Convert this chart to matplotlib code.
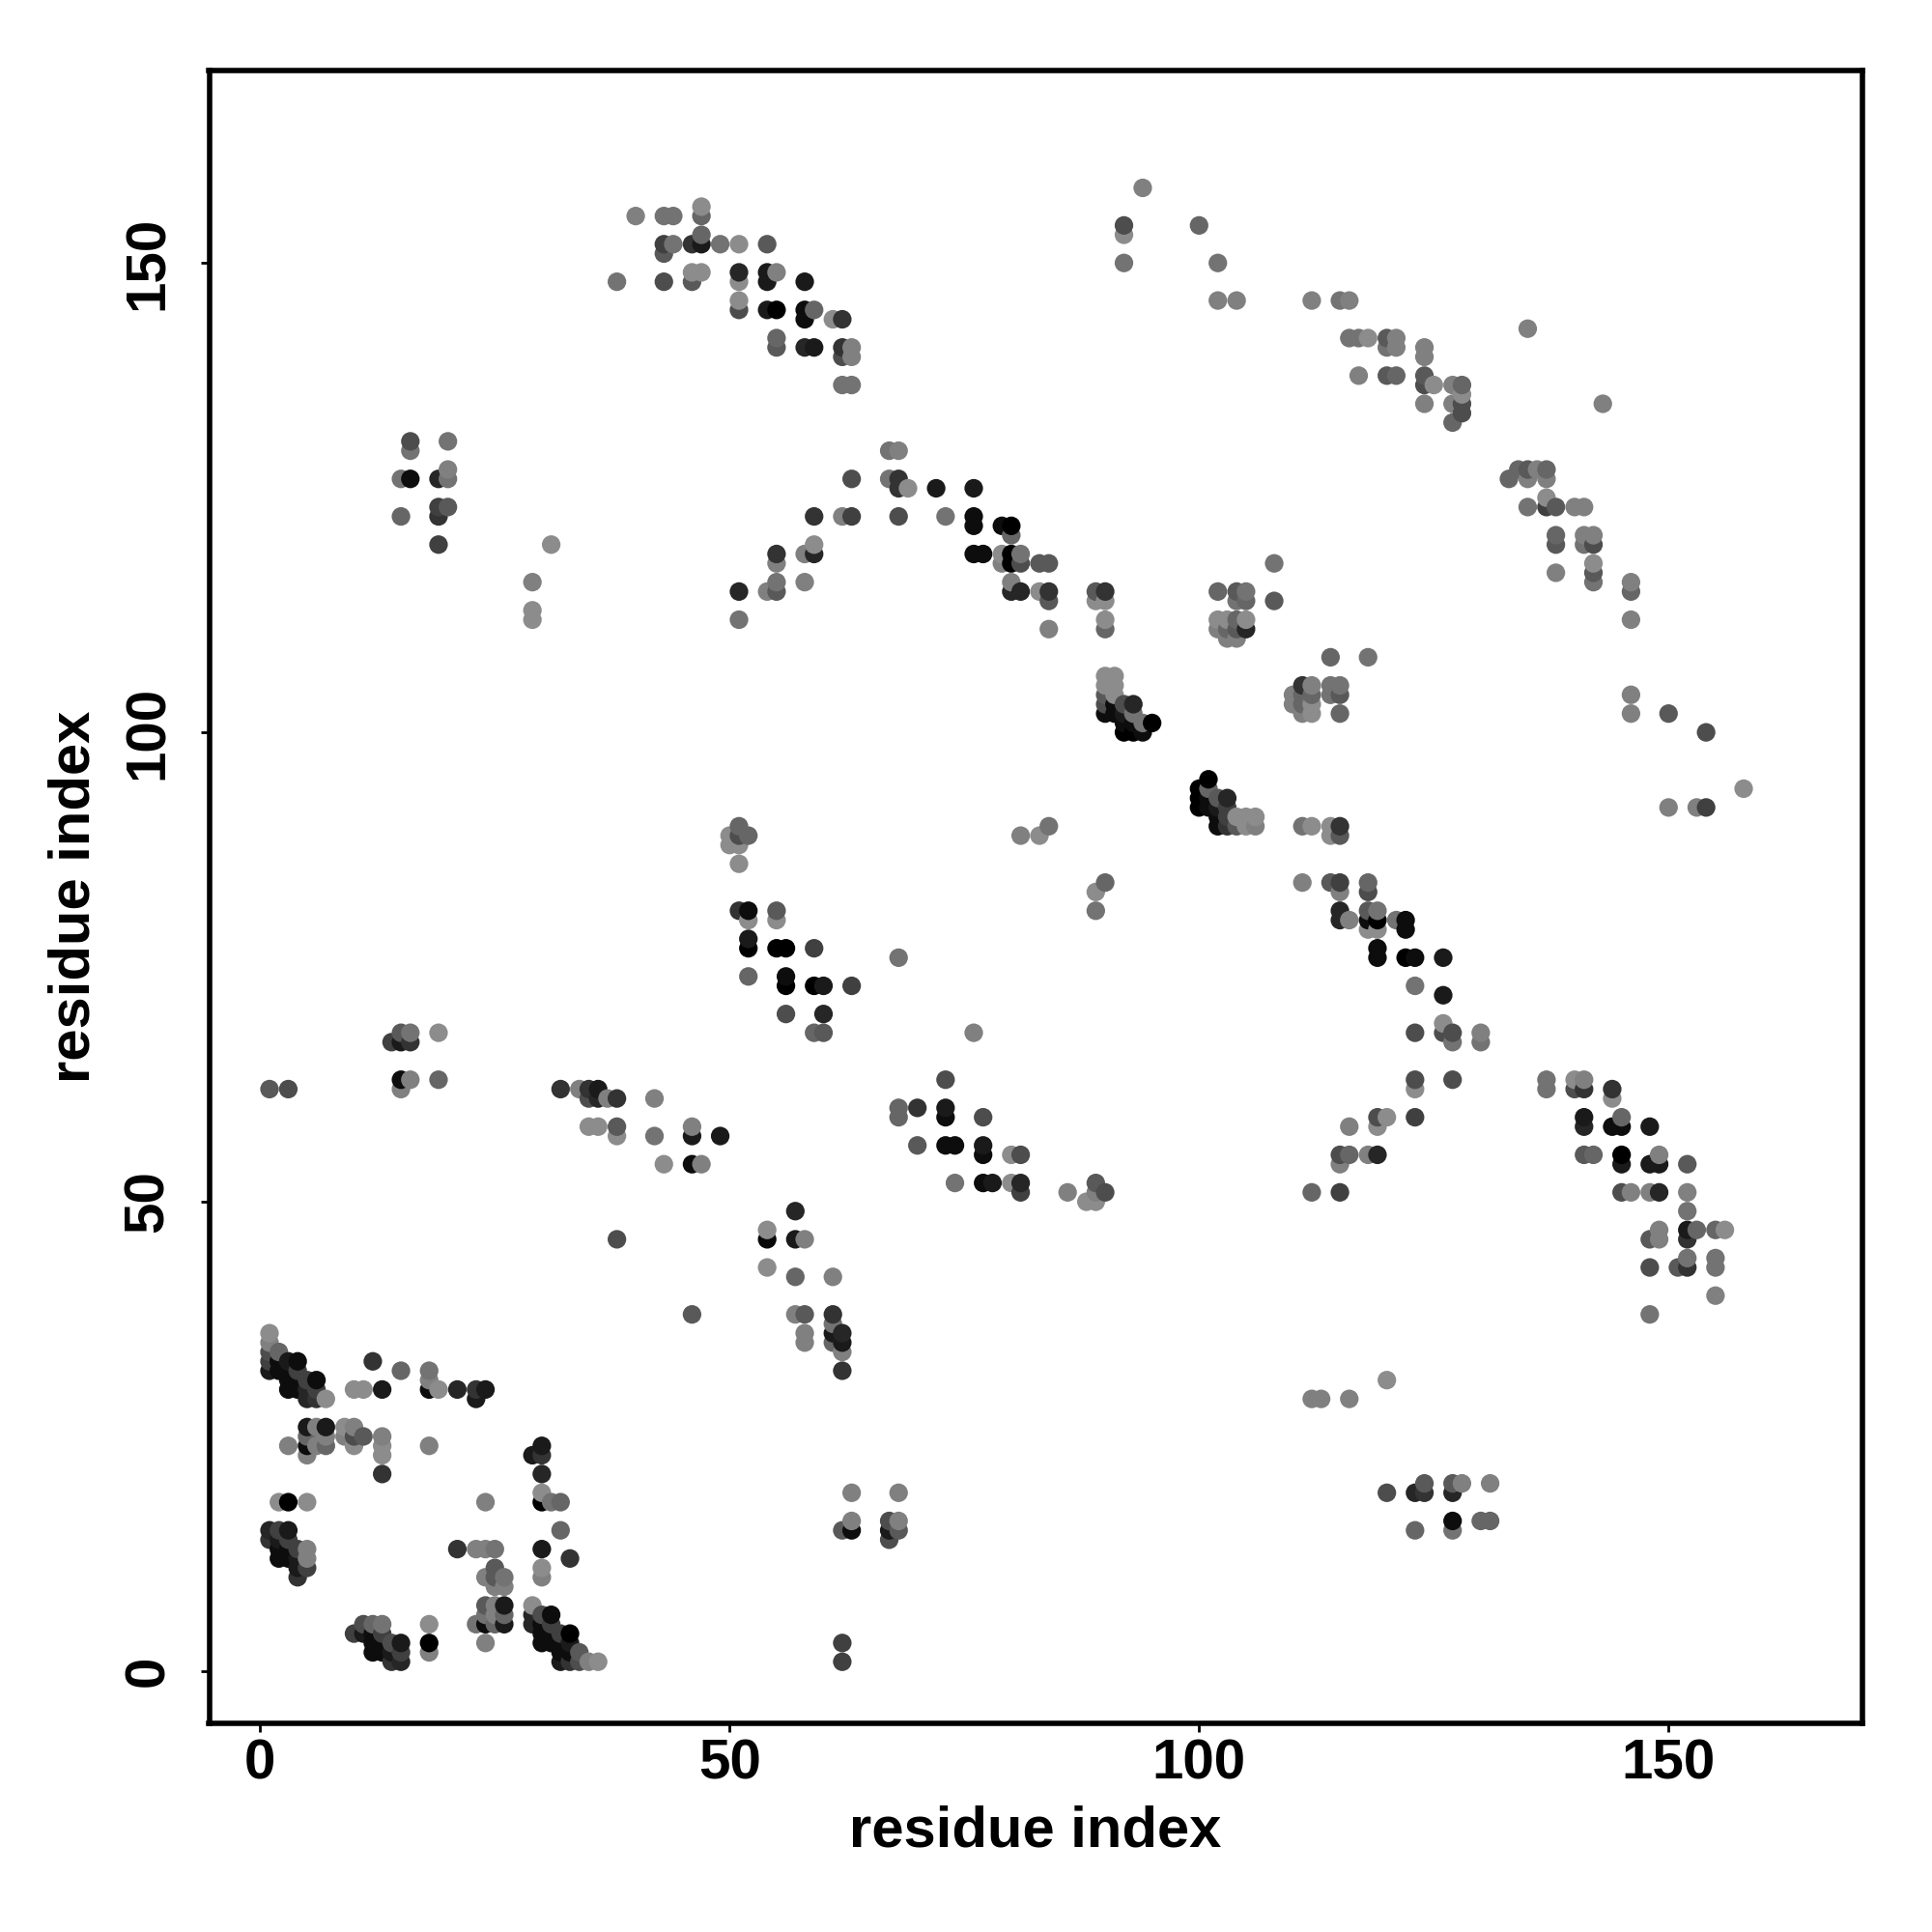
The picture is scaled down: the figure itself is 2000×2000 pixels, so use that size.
import numpy as np
import matplotlib
matplotlib.use("Agg")
import matplotlib.pyplot as plt

plt.rcParams['font.family'] = ['Liberation Sans', 'DejaVu Sans']

tick_values = [0, 50, 100, 150]
axis_label = "residue index"

# (residue i, residue j, gray shade)
block_a = [(1,36,.55),(1,35,.5),(1,34,.3),(1,33,.25),(1,32,.1),(2,34,.4),(3,33,.1),(4,33,.05),(2,33,.05),(2,32,.05),
 (3,32,.05),(3,31,.05),(3,30,.05),(4,32,.25),(4,31,.05),(4,30,.05),(5,31,.25),(5,30,.15),(5,29,.15),(6,31,.05),
 (6,30,.25),(6,29,.2),(7,29,.55),(12,33,.2),(15,32,.4),(18,32,.45),(18,31,.5),(18,30,.05),(19,30,.55),(10,30,.55),
 (11,30,.55),(13,30,.1),(21,30,.15),(23,30,.2),(24,30,.1),(23,29,.1)]
block_b = [(5,26,.1),(6,26,.5),(7,26,.1),(9,26,.55),(10,26,.5),(5,25,.4),(7,25,.5),(9,25,.5),(10,25,.3),(11,25,.35),
 (13,25,.5),(3,24,.5),(5,24,.05),(6,24,.5),(7,24,.4),(10,24,.55),(13,24,.55),(18,24,.5),(5,23,.5),(13,23,.55),(13,21,.2)]
block_c = [(2,18,.55),(3,18,0),(5,18,.55),(24,18,.5),(30,19,.55),(30,18,0),(31,18,.45),(32,18,.4),(32,15,.4),(30,21,.15),
 (30,24,.1),(30,23,.2),(29,23,.1),(1,15,.15),(2,15,.25),(3,15,.1),(1,14,.2),(2,14,.1),(3,14,.25),(2,13,.05),(3,13,.05),
 (4,13,.25),(5,13,.5),(2,12,.05),(3,12,.05),(4,12,.1),(5,12,.5),(4,11,.1),(5,11,.25),(4,10,.2)]
block_d = [(21,13,.2),(23,13,.5),(24,13,.5),(25,13,.45),(30,13,.1),(33,12,.2),(30,11,.55),(30,10,.5),(25,11,.35),(24,10,.5),
 (25,10,.35),(26,10,.45),(25,9,.5),(26,9,.5),(24,7,.35),(25,7,.5),(26,7,.1),(24,6,.45),(25,6,.5),(26,6,.4),(23,5,.45),
 (24,5,.05),(25,5,.4),(26,5,.1),(24,3,.5),(18,5,.55),(18,3,0),(18,2,.5)]
block_e = [(11,5,.3),(12,5,.4),(13,5,.45),(10,4,.25),(11,4,.1),(12,4,.05),(13,4,.25),(12,3,.05),(13,3,.05),(14,3,.3),(15,3,.1),
 (12,2,.05),(13,2,.05),(14,2,.1),(15,2,.25),(14,1,.2),(15,1,.15),(29,7,.55),(29,6,.15),(30,6,.3),(31,6,.05),(29,5,.15),
 (30,5,.05),(31,5,.25),(30,4,.05),(31,4,.05),(32,4,.25),(33,4,0),(30,3,.05),(31,3,.05),(32,3,.05),(33,3,.1),(32,2,.05),
 (33,2,.05),(34,2,.35),(32,1,.1),(33,1,.2),(34,1,.3),(35,1,.5),(36,1,.55),(62,3,.25),(62,1,.25)]
block_f = [(63,19,.5),(68,19,.5),(63,16,.5),(68,16,.5),(62,15,.35),(63,15,.05),(67,16,.3),(67,15,.1),(68,15,.35),(67,14,.3),
 (120,19,.3),(123,19,.15),(124,20,.35),(124,19,.2),(127,20,.35),(128,20,.5),(127,19,.15),(131,20,.5),(123,15,.4),(127,16,.05),
 (127,15,.45),(130,16,.4),(131,16,.4),(120,31,.55),(112,29,.5),(113,29,.5),(116,29,.5),(46,38,.35),(38,46,.3)]
block_g = [(57,49,.15),(54,47,.55),(54,46,.03),(57,46,.1),(58,46,.5),(54,43,.55),(57,42,.4),(61,42,.5),(57,38,.5),(58,38,.35),
 (61,38,.2),(58,36,.5),(58,35,.5),(61,37,.45),(61,36,.1),(62,36,.15),(61,35,.4),(62,35,.1),(62,34,.5),(62,32,.2),(1,62,.35),(3,62,.3),
 (14,67,.25),(15,68,.35),(16,68,.45),(15,67,.1),(16,67,.2),(19,68,.55),(15,63,.05),(16,63,.5),(19,63,.4),(15,62,.5)]
block_h = [(32,62,.2),(34,62,.5),(35,62,.2),(36,62,.1),(35,61,.3),(36,61,.15),(37,61,.5),(38,61,.2),(42,61,.5),(35,58,.55),
 (36,58,.55),(38,58,.35),(38,57,.55),(42,57,.45),(43,54,.55),(46,58,.5),(46,57,.1),(49,57,.1),(46,54,.05),(47,54,.5)]
block_i = [(68,60,.4),(70,60,.2),(68,59,.4),(73,63,.3),(73,60,.1),(73,59,.05),(70,56,.35),(73,56,.05),(74,56,.05),(77,59,.3),
 (77,56,.1),(77,55,.05),(74,52,.45),(77,52,.05),(78,52,.1),(81,55,.3),(80,55,.55),(80,52,.55),(81,52,.15),(81,51,.25)]
block_j = [(51,90,.4),(50,89,.55),(51,89,.3),(52,89,.4),(50,88,.55),(51,88,.55),(51,86,.55),(51,81,.2),(52,81,.05),(52,80,.55),
 (55,81,.35),(55,80,.55),(52,78,.1),(52,77,0),(55,77,0),(56,77,0),(59,77,.25),(52,74,.4),(56,74,.05),(56,73,0),(59,73,0),
 (60,73,.1),(63,73,.25),(56,70,.3),(60,70,.15),(59,68,.4),(60,68,.35),(68,76,.45),(76,68,.5)]
block_k = [(86,51,.5),(88,50,.55),(89,50,.55),(89,52,.35),(89,51,.5),(90,51,.3),(81,89,.5),(83,89,.55),(84,90,.45),(89,83,.55),
 (90,84,.4),(89,81,.45)]
block_l = [(90,106,.55),(91,106,.55),(90,105,.55),(91,105,.55),(90,104,.35),(91,104,.55),(90,103,.3),(91,103,.05),(92,103,.3),
 (93,103,.15),(90,102,.05),(91,102,.05),(92,102,.1),(93,102,.45),(92,101,.05),(93,101,.05),(94,101,.45),(95,101,0),(92,100,0),
 (93,100,0),(94,100,.05),(101,95,0),(100,94,0),(101,94,.4),(100,93,0),(101,93,.05),(102,93,.35),(103,93,.15),(100,92,0),
 (101,92,.05),(102,92,.1),(103,92,.25),(102,91,.05),(103,91,.25),(104,91,.55),(105,91,.55),(106,91,.55),(102,90,.05),
 (103,90,.2),(104,90,.35),(105,90,.55),(106,90,.5)]
block_m = [(111,90,.45),(112,90,.55),(114,90,.55),(115,90,.2),(114,89,.55),(115,89,.35),(111,84,.5),(114,84,.35),(115,84,.25),
 (115,83,.5),(118,84,.4),(118,83,.3),(115,81,.15),(115,80,.15),(116,80,.5),(118,81,.35),(119,81,.45),(118,80,.05),(119,80,0),
 (118,79,.55),(119,79,.55),(121,80,.45),(122,80,.05),(122,79,.05),(119,77,.05),(119,76,.05),(122,76,0),(123,76,.05),(126,76,.1),
 (123,73,.45),(126,72,.1),(126,69,.55),(123,68,.3),(126,68,.3),(127,68,.3),(127,67,.45),(130,68,.5),(130,67,.45)]
block_n = [(123,63,.3),(123,62,.55),(127,63,.3),(119,59,.3),(120,59,.55),(123,59,.25),(116,58,.5),(119,58,.55),(115,55,.3),
 (116,55,.4),(118,55,.5),(119,55,.15),(115,54,.5),(112,51,.4),(115,51,.25)]
block_o = [(137,63,.45),(137,62,.45),(140,63,.55),(141,63,.5),(140,62,.3),(141,62,.2),(144,62,.2),(144,61,.55),(141,59,.1),
 (141,58,.15),(144,58,.05),(145,58,.05),(145,59,.4),(148,58,.1),(141,55,.35),(142,55,.4),(145,55,0),(145,54,.1),(148,54,.1),
 (149,54,.1),(149,55,.5),(152,54,.35),(145,51,.3),(146,51,.5),(148,51,.5),(149,51,.15),(152,51,.5),(152,49,.45),(152,47,.1),
 (153,47,.4),(155,47,.4),(156,47,.55),(149,47,.5),(149,46,.5),(148,46,.35),(152,46,.2),(148,43,.3),(151,43,.35),(152,43,.2),
 (152,44,.45),(155,44,.45),(155,43,.45),(155,40,.5),(148,38,.45)]
block_p = [(154,100,.3),(150,102,.35),(146,102,.5),(146,104,.5),(150,92,.5),(153,92,.5),(154,92,.25),(158,94,.55),
 (114,108,.4),(118,108,.45),(110,104,.5),(110,103,.5),(111,105,.2),(112,105,.5),(111,104,.4),(112,104,.4),(111,103,.4),
 (112,103,.55),(111,102,.5),(112,102,.55),(114,105,.45),(115,105,.45),(114,104,.45),(115,104,.35),(115,102,.4)]
block_q = [(102,115,.4),(104,115,.35),(105,115,.45),(104,114,.45),(105,114,.4),(108,118,.45),(108,114,.35),
 (102,112,.55),(103,112,.55),(104,112,.4),(105,112,.55),(102,111,.5),(103,111,.4),(104,111,.35),(105,111,.15),
 (103,110,.5),(104,110,.5)]
block_r = [(72,126,.1),(76,126,.1),(73,123,.45),(76,123,.05),(76,122,.05),(79,122,.05),(80,122,0),(80,121,.4),(76,119,.05),
 (77,119,.05),(79,119,.55),(79,118,.5),(80,119,0),(80,118,0),(81,119,.45),(81,118,.3),(83,118,.35),(84,118,.35),(80,116,.5),
 (80,115,.15),(81,115,.15),(83,115,.55),(84,115,.2),(84,114,.35),(84,111,.5),(89,115,.35),(90,115,.2),(89,114,.55),(90,114,.55),
 (90,112,.55),(90,111,.4)]
block_s = [(67,130,.45),(68,130,.5),(67,127,.45),(68,127,.2),(68,126,.2),(69,126,.55),(63,127,.3),(62,123,.5),(63,123,.25),
 (68,123,.3),(59,123,.2),(58,119,.5),(59,119,.15),(59,120,.55),(55,119,.2),(55,118,.5),(55,116,.45),(55,115,.35),(54,115,.5),
 (58,116,.5),(51,115,.15),(51,112,.45)]
block_t = [(16,131,.3),(16,130,.45),(20,131,.45),(15,127,.45),(16,127,.05),(19,127,.15),(20,127,.45),(20,128,.5),(15,123,.4),
 (19,124,.25),(20,124,.35),(19,123,.2),(19,120,.25),(31,120,.55),(29,116,.5),(29,113,.55),(29,112,.55)]
block_u = [(40,155,.5),(43,155,.45),(44,155,.45),(47,155,.4),(47,156,.55),(43,152,.25),(44,152,.45),(43,151,.35),(46,152,.2),
 (47,152,.1),(47,153,.4),(49,152,.45),(51,152,.55),(54,152,.35),(38,148,.45),(43,148,.3),(46,148,.35),(46,149,.55),(47,149,.55),
 (51,149,.15),(51,148,.55),(54,149,.1),(54,148,.1),(55,149,.5),(58,148,.1),(51,146,.55),(51,145,.3),(54,145,.1),(55,145,0),
 (58,145,.05),(59,145,.4),(58,144,.05),(61,144,.55),(62,144,.2),(55,142,.4),(55,141,.35),(58,141,.15),(59,141,.1),(62,141,.2),
 (63,141,.5),(62,140,.3),(63,140,.5),(62,137,.45),(63,137,.45)]
block_v = [(112,146,.5),(102,146,.5),(104,146,.5),(102,150,.45),(100,154,.4),(92,153,.55),(92,154,.3),(92,150,.45),(94,158,.5),
 (135,143,.5),(143,135,.5),(115,146,.45),(116,146,.5),(116,142,.45),(117,142,.45),(118,142,.55),(120,142,.35),(121,142,.5),
 (120,141,.45),(121,141,.5),(124,141,.5),(124,140,.5),(117,138,.5),(120,138,.35),(121,138,.4),(124,138,.35),(124,137,.3),
 (125,137,.55),(127,137,.5),(128,137,.4),(128,136,.55),(124,135,.5),(127,135,.5),(128,135,.3),(128,134,.3),(127,133,.4)]
block_w = [(134,128,.4),(135,128,.35),(136,128,.5),(137,128,.4),(133,127,.4),(135,127,.5),(137,127,.5),(137,125,.55),(135,124,.45),
 (137,124,.25),(138,124,.35),(140,124,.5),(141,124,.5),(138,121,.4),(138,120,.35),(141,121,.5),(142,121,.5),(141,120,.45),
 (142,120,.3),(138,117,.5),(142,118,.55),(142,117,.35),(142,116,.45),(146,116,.5),(146,115,.4),(146,112,.5)]

blocks = [block_a, block_b, block_c, block_d, block_e, block_f, block_g, block_h, block_i, block_j, block_k, block_l,
          block_m, block_n, block_o, block_p, block_q, block_r, block_s, block_t, block_u, block_v, block_w]
pts = np.array([p for b in blocks for p in b], dtype=float)
order = np.lexsort((pts[:, 1], pts[:, 0]))
pts = pts[order]

fig = plt.figure(figsize=(10, 10), dpi=200)
ax = fig.add_axes([216.5/2000, 1 - 1784/2000, (1927.5-216.5)/2000, (1784-73)/2000])
ax.scatter(pts[:, 0], pts[:, 1], s=48, c=[str(v) for v in pts[:, 2]], linewidths=0, zorder=3)
ax.set_xlim(-5.43, 170.6)
ax.set_ylim(-5.56, 170.5)
ax.set_xticks(tick_values)
ax.set_yticks(tick_values)
ax.tick_params(length=3.2, width=1, labelsize=21)
ax.tick_params(axis='x', pad=2.4)
ax.tick_params(axis='y', pad=9.5)
for t in ax.get_xticklabels():
    t.set_fontweight('bold')
for t in ax.get_yticklabels():
    t.set_fontweight('bold')
    t.set_rotation(90)
    t.set_va('center')
for s in ax.spines.values():
    s.set_linewidth(2)
ax.set_xlabel(axis_label, fontsize=21.5, fontweight='bold', labelpad=5.5)
ax.set_ylabel(axis_label, fontsize=21.5, fontweight='bold', labelpad=8)
fig.savefig("out.png", dpi=200, facecolor="white")
